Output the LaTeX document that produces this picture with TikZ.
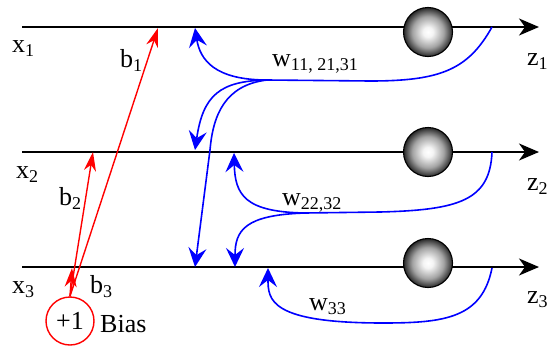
\documentclass[tikz,border=0pt]{standalone}
\usepackage{fontspec}
\setmainfont{Liberation Serif}
\usetikzlibrary{arrows.meta}
\pgfdeclareradialshading{sphereshade}{\pgfpoint{0bp}{0bp}}{color(0bp)=(white); color(5bp)=(white!96!black); color(16bp)=(black!36); color(22bp)=(black!68); color(25bp)=(black!85); color(50bp)=(black!85)}
\newcommand{\lsub}[1]{\raisebox{-4.5pt}{\fontsize{18}{18}\selectfont #1}}
\begin{document}
\begin{tikzpicture}[x=1pt,y=-1pt, font=\fontsize{26}{30}\selectfont,
  lbl/.style={anchor=base west, inner sep=0pt},
  axis/.style={line width=1.8pt, -{Stealth[length=20pt,width=17pt,inset=6pt]}},
  sph/.style={circle, draw=black, line width=1.1pt, minimum size=49pt, inner sep=0pt, shade, shading=sphereshade},
  wline/.style={blue, line width=1.6pt},
  warrow/.style={wline, -{Stealth[length=19pt,width=18pt,inset=7pt]}},
  barrow/.style={red, line width=1.4pt, -{Stealth[length=19pt,width=12pt,inset=6pt]}},
]
\useasboundingbox (0,0) rectangle (548,348);
% axes
\coordinate (a1) at (22,27);  \coordinate (e1) at (539,27);
\coordinate (a2) at (22,152); \coordinate (e2) at (539,152);
\coordinate (a3) at (22,267); \coordinate (e3) at (539,267);
\draw[axis] (a1) -- (e1);
\draw[axis] (a2) -- (e2);
\draw[axis] (a3) -- (e3);
% spheres
\node[sph] (s1) at (428,32) {};
\node[sph] (s2) at (428,152) {};
\node[sph] (s3) at (428,263) {};
% labels
\node[lbl] (x1) at (12,52) {x\lsub{1}};
\node[lbl] (x2) at (16,178) {x\lsub{2}};
\node[lbl] (x3) at (12,293) {x\lsub{3}};
\node[lbl] (z1) at (527,65) {z\lsub{1}};
\node[lbl] (z2) at (527,190) {z\lsub{2}};
\node[lbl] (z3) at (527,303) {z\lsub{3}};
\node[lbl] (b1) at (120,67) {b\lsub{1}};
\node[lbl] (b2) at (59,205) {b\lsub{2}};
\node[lbl] (b3) at (90,293) {b\lsub{3}};
\node[lbl] (w1) at (272,66) {w\lsub{11, 21,31}};
\node[lbl] (w2) at (282,205) {w\lsub{22,32}};
\node[lbl] (w3) at (309,310) {w\lsub{33}};
% blue weight connectors
\coordinate (w1s) at (492,27);
\coordinate (w2s) at (492,152);
\coordinate (w3s) at (492,268);
\coordinate (j1) at (267,80);
\coordinate (j2) at (305,213);
\coordinate (t11) at (195,28);
\coordinate (t12) at (195,150);
\coordinate (t13) at (195,267);
\coordinate (t22) at (234,153);
\coordinate (t23) at (235,267);
\coordinate (t33) at (268,268);
\draw[wline] (w1s) .. controls (468,70) and (440,81) .. (370,81) -- (j1);
\draw[warrow] (j1) .. controls (215,80) and (200,60) .. (t11);
\draw[warrow] (j1) .. controls (220,81) and (203,95) .. (t12);
\draw[warrow] (j1) .. controls (225,85) and (213,115) .. (210,150) -- (t13);
\draw[wline] (w2s) .. controls (490,200) and (460,210) .. (380,212) -- (j2);
\draw[warrow] (j2) .. controls (245,212) and (235,195) .. (t22);
\draw[warrow] (j2) .. controls (245,215) and (235,230) .. (t23);
\draw[warrow] (w3s) .. controls (482,318) and (445,323) .. (383,323) .. controls (270,323) and (268,300) .. (t33);
% bias
\node[circle, draw=red, line width=1.4pt, minimum size=48pt, inner sep=0pt] (bias) at (70,321) {+1};
\node[lbl] (biaslbl) at (100,332) {Bias};
\coordinate (r1) at (158,28);
\coordinate (r2) at (93,152);
\coordinate (r3) at (72,268);
\draw[barrow] (bias.north) -- (r1);
\draw[barrow] (bias.north) -- (r2);
\draw[barrow] (bias.north) -- (r3);
\end{tikzpicture}
\end{document}
